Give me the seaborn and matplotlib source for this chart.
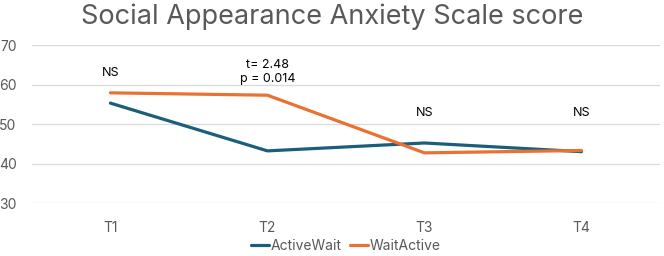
import pandas as pd
import seaborn as sns
import matplotlib.pyplot as plt

# Data
timepoints = ["T1", "T2", "T3", "T4"]
active_wait = [55.3, 43.2, 45.2, 43.0]
wait_active = [57.9, 57.3, 42.7, 43.3]
group_names = ["ActiveWait", "WaitActive"]
annotations = ["NS", "t= 2.48\np = 0.014", "NS", "NS"]
annotation_y = [62.9, 63.1, 52.8, 52.8]

df = pd.DataFrame({
    "time": timepoints * 2,
    "score": active_wait + wait_active,
    "group": [group_names[0]] * 4 + [group_names[1]] * 4,
})

sns.set_style("white")
plt.rcParams["font.family"] = ["Inter", "DejaVu Sans"]

fig = plt.figure(figsize=(6.64, 2.56), dpi=100)
ax = fig.add_axes([0.048, 0.207, 0.946, 0.617])

sns.lineplot(data=df, x="time", y="score", hue="group",
             palette=["#1B5E7B", "#E97132"], linewidth=2.3, ax=ax,
             sort=False)

for i, (txt, y) in enumerate(zip(annotations, annotation_y)):
    ax.text(i, y, txt, ha="center", va="center", fontsize=9, color="black",
            linespacing=1.25)

ax.set_xlim(-0.5, 3.5)
ax.set_ylim(30, 70)
ax.set_yticks([30, 40, 50, 60, 70])
ax.yaxis.grid(True, color="#D9D9D9", linewidth=0.9)
ax.set_axisbelow(True)
for s in ax.spines.values():
    s.set_visible(False)
ax.tick_params(axis="both", length=0, labelsize=10, colors="#595959")
ax.tick_params(axis="y", pad=11)
ax.tick_params(axis="x", pad=13)
ax.set_xlabel("")
ax.set_ylabel("")

fig.text(0.5, 0.935, "Social Appearance Anxiety Scale score", ha="center",
         va="center", fontsize=19.5, color="#595959")

ax.legend(loc="lower center", bbox_to_anchor=(0.5, -0.37), ncol=2,
          frameon=False, fontsize=10, handlelength=1.3, handletextpad=0.1,
          columnspacing=0.6, labelcolor="#595959", borderaxespad=0.2)

plt.savefig("out.png", dpi=100)
